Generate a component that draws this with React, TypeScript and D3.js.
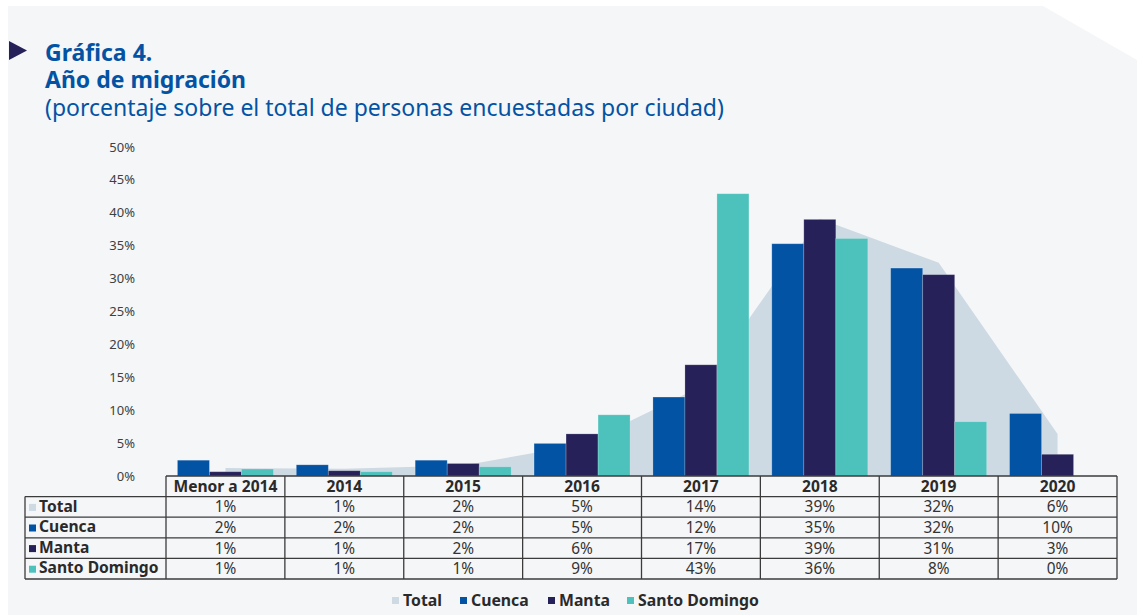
import React from 'react'
import * as d3 from 'd3'

const categories = ['Menor a 2014', '2014', '2015', '2016', '2017', '2018', '2019', '2020']
const seriesNames = ['Total', 'Cuenca', 'Manta', 'Santo Domingo']
const totalValues = [1.2, 1.1, 1.6, 4.8, 13.6, 39.1, 32.4, 6.4]
const cuencaValues = [2.4, 1.7, 2.4, 4.95, 12.0, 35.3, 31.6, 9.5]
const mantaValues = [0.65, 0.8, 1.9, 6.4, 16.9, 39.0, 30.6, 3.3]
const santoDomingoValues = [1.06, 0.65, 1.4, 9.3, 42.9, 36.1, 8.25, 0]
const yTicks = [0, 5, 10, 15, 20, 25, 30, 35, 40, 45, 50]

const colors: Record<string, string> = {
  Total: '#cddae3',
  Cuenca: '#0353a4',
  Manta: '#262159',
  'Santo Domingo': '#4dc2bd',
}

const font = "'Noto Sans', 'Open Sans', sans-serif"

export default function App() {
  const width = 1137
  const height = 615
  const plotLeft = 166
  const plotRight = 1117
  const yZero = 476
  const yTop = 147

  const x = d3.scaleBand().domain(categories).range([plotLeft, plotRight]).padding(0)
  const y = d3.scaleLinear().domain([0, 50]).range([yZero, yTop])
  const barSeries = ['Cuenca', 'Manta', 'Santo Domingo']
  const barValues: Record<string, number[]> = {
    Cuenca: cuencaValues,
    Manta: mantaValues,
    'Santo Domingo': santoDomingoValues,
  }
  const allValues: Record<string, number[]> = { Total: totalValues, ...barValues }
  const groupW = 96
  const inner = d3.scaleBand().domain(barSeries).range([0, groupW]).padding(0)
  const center = (c: string) => (x(c) as number) + x.bandwidth() / 2

  const area = d3.area<number>()
    .x((_, i) => center(categories[i]))
    .y0(y(0))
    .y1(d => y(d))
    .curve(d3.curveLinear)

  // table geometry
  const tableLeft = 25
  const rowH = 20.6
  const rowTop = (i: number) => yZero + rowH * (i + 1)
  const tableBottom = rowTop(seriesNames.length)
  const gridColor = '#3b3b3b'
  const pct = (v: number) => `${Math.round(v)}%`

  // legend layout
  const legendItems = [
    { name: 'Total', x: 392 },
    { name: 'Cuenca', x: 460 },
    { name: 'Manta', x: 548 },
    { name: 'Santo Domingo', x: 627 },
  ]

  return (
    <svg width={width} height={height} style={{ position: 'absolute', left: 0, top: 0, display: 'block' }}
      fontFamily={font}>
      <rect x={0} y={0} width={width} height={height} fill="#ffffff" />
      <path d="M8,6 H1043 L1137,60 V615 H8 Z" fill="#f5f6f8" />

      {/* title */}
      <path d="M9,41 L27,50.5 L9,60 Z" fill="#262159" />
      <text x={45} y={61} fontSize={23} fontWeight={700} fill="#0353a4">Gráfica 4.</text>
      <text x={45} y={88} fontSize={23} fontWeight={700} fill="#0353a4">Año de migración</text>
      <text x={45} y={116} fontSize={23} fill="#0353a4">(porcentaje sobre el total de personas encuestadas por ciudad)</text>

      {/* y axis labels */}
      {yTicks.map(t => (
        <text key={t} x={135} y={y(t)} dy="0.35em" textAnchor="end" fontSize={13} fill="#404040">{t}%</text>
      ))}

      {/* total area */}
      <path d={area(totalValues) || ''} fill={colors.Total} />

      {/* bars */}
      {categories.map((c, i) => (
        <g key={c} transform={`translate(${center(c) - groupW / 2},0)`}>
          {barSeries.map(s => {
            const v = barValues[s][i]
            if (v <= 0) return null
            return (
              <rect key={s} x={inner(s)} y={y(v)} width={inner.bandwidth()} height={y(0) - y(v)}
                fill={colors[s]} stroke="#ffffff" strokeOpacity={0.25} strokeWidth={0.8} />
            )
          })}
        </g>
      ))}

      {/* table */}
      <g stroke={gridColor} strokeWidth={1.3} fill="none">
        <line x1={plotLeft} x2={plotRight} y1={yZero} y2={yZero} />
        {seriesNames.map((s, i) => (
          <line key={s} x1={tableLeft} x2={plotRight} y1={rowTop(i)} y2={rowTop(i)} />
        ))}
        <line x1={tableLeft} x2={plotRight} y1={tableBottom} y2={tableBottom} />
        <line x1={tableLeft} x2={tableLeft} y1={rowTop(0)} y2={tableBottom} />
        {categories.map(c => (
          <line key={c} x1={x(c)} x2={x(c)} y1={yZero} y2={tableBottom} />
        ))}
        <line x1={plotRight} x2={plotRight} y1={yZero} y2={tableBottom} />
      </g>
      {categories.map(c => (
        <text key={c} x={center(c)} y={yZero + rowH / 2} dy="0.36em" textAnchor="middle"
          fontSize={15.6} fontWeight={700} fill="#2a2a2a">{c}</text>
      ))}
      {seriesNames.map((s, r) => (
        <g key={s}>
          <rect x={29} y={rowTop(r) + rowH / 2 - 3} width={7} height={7} fill={colors[s]} />
          <text x={39} y={rowTop(r) + rowH / 2} dy="0.3em" fontSize={15.6} fontWeight={700} fill="#2a2a2a">{s}</text>
          {categories.map((c, i) => (
            <text key={c} x={center(c)} y={rowTop(r) + rowH / 2} dy="0.36em" textAnchor="middle"
              fontSize={15.4} fill="#333333">{pct(allValues[s][i])}</text>
          ))}
        </g>
      ))}

      {/* legend */}
      {legendItems.map(item => (
        <g key={item.name}>
          <rect x={item.x} y={597} width={7} height={7} fill={colors[item.name]} />
          <text x={item.x + 11} y={600} dy="0.35em" fontSize={15.8} fontWeight={700} fill="#2a2a2a">{item.name}</text>
        </g>
      ))}
    </svg>
  )
}
